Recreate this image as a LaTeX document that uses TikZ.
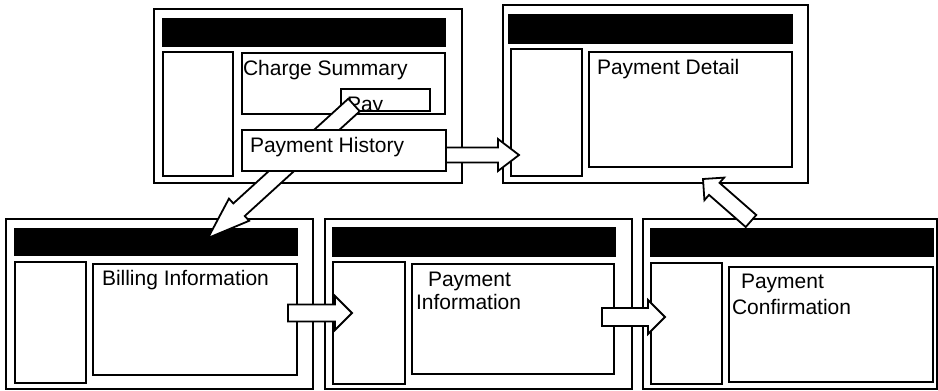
\documentclass[tikz,border=0pt]{standalone}
\usepackage{fontspec}
\setmainfont{Liberation Sans}
\usetikzlibrary{calc}
\tikzset{
  frame/.style={draw, line width=1.8pt, fill=white, inner sep=0pt, outer sep=0pt, anchor=north west},
  titlebar/.style={frame, fill=black},
  lbl/.style={inner sep=0pt, outer sep=0pt, anchor=base west, font=\fontsize{21}{24}\selectfont},
  barrow/.style={draw, line width=1.8pt, fill=white, line join=miter},
}
% #1 from, #2 to, #3 half shaft width, #4 half head width, #5 head length
\newcommand\blockarrow[5]{%
  \coordinate (bah) at ($(#2)!#5!(#1)$);
  \draw[barrow] ($(#1)!#3!90:(#2)$) -- ($(bah)!#3!90:(#2)$) -- ($(bah)!#4!90:(#2)$)
    -- (#2) -- ($(bah)!#4!-90:(#2)$) -- ($(bah)!#3!-90:(#2)$) -- ($(#1)!#3!-90:(#2)$) -- cycle;
}
\begin{document}
\begin{tikzpicture}[x=1pt,y=-1pt]
\useasboundingbox (0,0) rectangle (938,391);
% ---------- window 1: Charge Summary ----------
\node[frame, minimum width=308pt, minimum height=174pt] (w1) at (154,9) {};
\node[titlebar, minimum width=282pt, minimum height=27pt] (w1t) at (163,19) {};
\node[frame, minimum width=70pt, minimum height=124pt] (w1l) at (163,52) {};
\node[frame, minimum width=203pt, minimum height=61pt] (charge) at (242,53) {};
\node[lbl] (tcharge) at (243,75) {Charge Summary};
\node[frame, minimum width=89pt, minimum height=22pt] (pay) at (341,89) {};
\begin{scope}
  \clip (342,90) rectangle (429,110);
  \node[lbl] (tpay) at (347,111) {Pay};
\end{scope}
% ---------- window 2: Payment Detail ----------
\node[frame, minimum width=305pt, minimum height=178pt] (w2) at (503,5) {};
\node[titlebar, minimum width=283pt, minimum height=28pt] (w2t) at (509,15) {};
\node[frame, minimum width=71pt, minimum height=127pt] (w2l) at (511,49) {};
\node[frame, minimum width=203pt, minimum height=115pt] (detail) at (589,52) {};
\node[lbl] (tdetail) at (597,74) {Payment Detail};
% ---------- window 3: Billing Information ----------
\node[frame, minimum width=307pt, minimum height=170pt] (w3) at (6,219) {};
\node[titlebar, minimum width=282pt, minimum height=26pt] (w3t) at (15,229) {};
\node[frame, minimum width=71pt, minimum height=121pt] (w3l) at (15,262) {};
\node[frame, minimum width=204pt, minimum height=111pt] (billing) at (93,264) {};
\node[lbl] (tbilling) at (102,285) {Billing Information};
% ---------- window 4: Payment Information ----------
\node[frame, minimum width=307pt, minimum height=170pt] (w4) at (325,219) {};
\node[titlebar, minimum width=282pt, minimum height=28pt] (w4t) at (333,228) {};
\node[frame, minimum width=72pt, minimum height=122pt] (w4l) at (333,262) {};
\node[frame, minimum width=202pt, minimum height=110pt] (info) at (412,264) {};
\node[lbl] (tinfo1) at (428,286) {Payment};
\node[lbl] (tinfo2) at (416,309) {Information};
% ---------- window 5: Payment Confirmation ----------
\node[frame, minimum width=294pt, minimum height=170pt] (w5) at (643,219) {};
\node[titlebar, minimum width=282pt, minimum height=27pt] (w5t) at (651,229) {};
\node[frame, minimum width=71pt, minimum height=121pt] (w5l) at (651,263) {};
\node[frame, minimum width=204pt, minimum height=115pt] (conf) at (729,267) {};
\node[lbl] (tconf1) at (741,288) {Payment};
\node[lbl] (tconf2) at (732,314) {Confirmation};
% ---------- arrow: Pay -> Billing Information ----------
\coordinate (a1s) at (354,105);
\coordinate (a1e) at (208,238);
\blockarrow{a1s}{a1e}{8.5pt}{15pt}{42pt}
% Payment History box drawn over the arrow
\node[frame, minimum width=204pt, minimum height=41pt] (hist) at (242,130) {};
\node[lbl] (thist) at (250,152) {Payment History};
% ---------- arrow: Payment History -> Payment Detail ----------
\coordinate (a2s) at (446,155);
\coordinate (a2e) at (519,155);
\blockarrow{a2s}{a2e}{7.5pt}{16pt}{21pt}
% ---------- arrow: Billing -> Payment Information ----------
\coordinate (a3s) at (288,313);
\coordinate (a3e) at (352,313);
\blockarrow{a3s}{a3e}{8.5pt}{17pt}{17pt}
% ---------- arrow: Payment Information -> Confirmation ----------
\coordinate (a4s) at (602,317);
\coordinate (a4e) at (665,317);
\blockarrow{a4s}{a4e}{9pt}{17pt}{17pt}
% ---------- arrow: Confirmation -> Payment Detail ----------
\coordinate (a5s) at (751,221);
\coordinate (a5e) at (703,179);
\blockarrow{a5s}{a5e}{8pt}{15pt}{15pt}
\end{tikzpicture}
\end{document}
